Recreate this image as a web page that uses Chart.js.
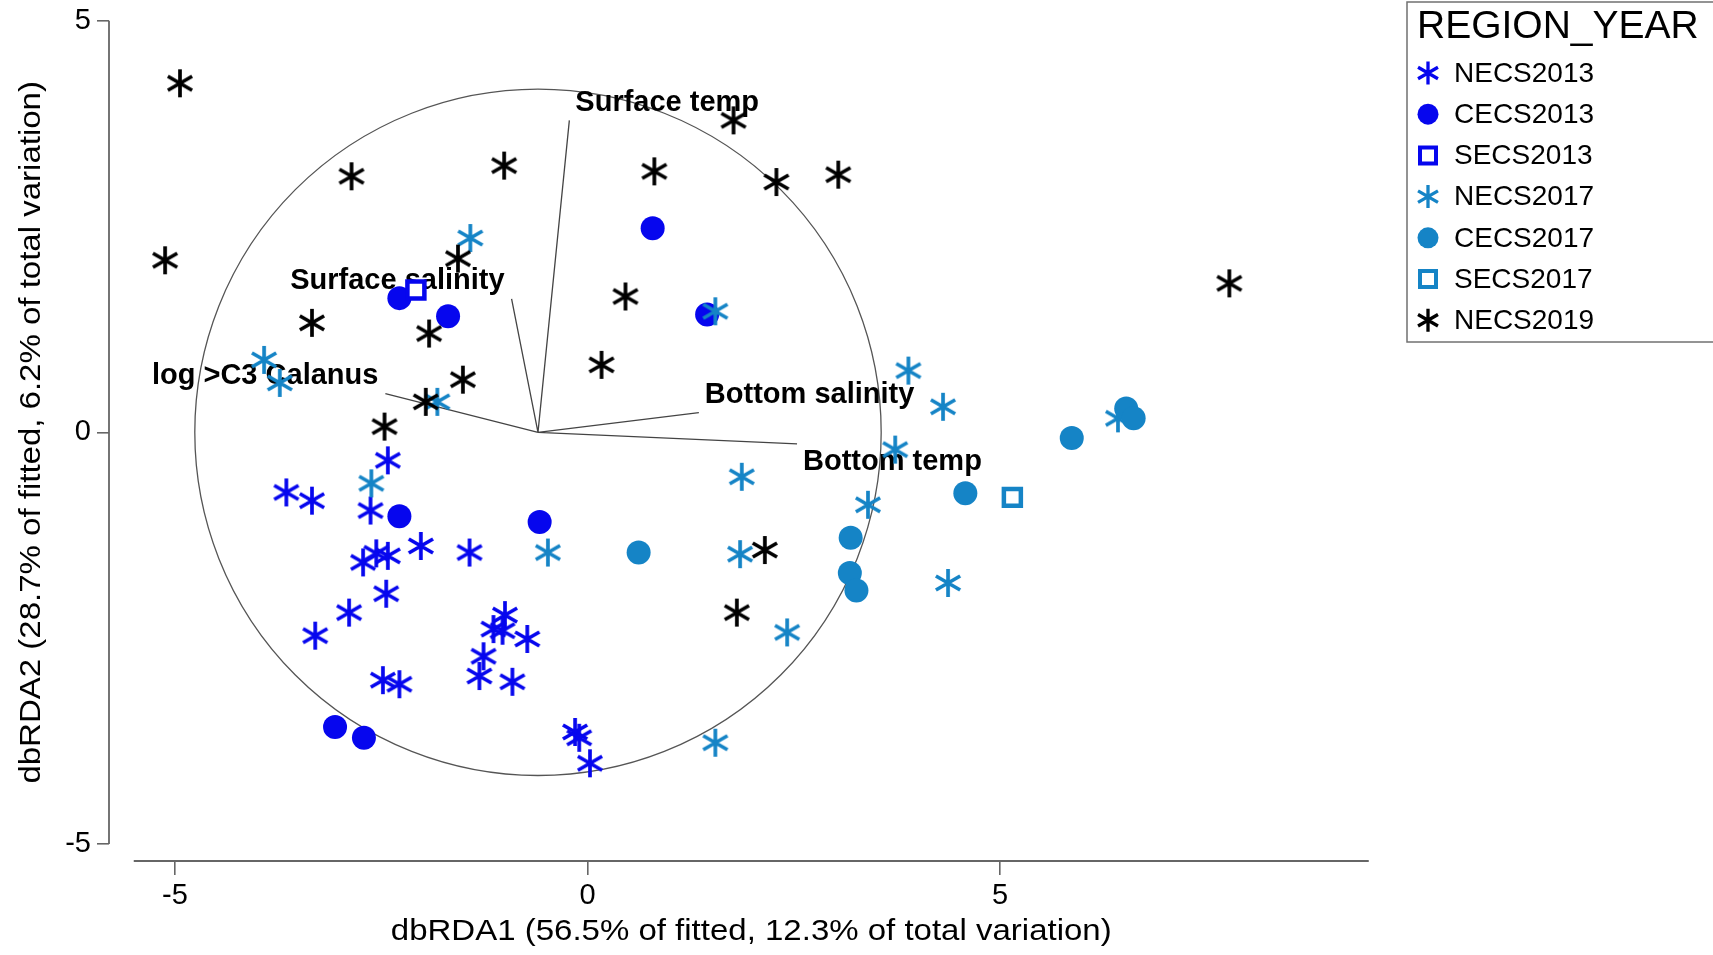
<!DOCTYPE html>
<html>
<head>
<meta charset="utf-8">
<title>dbRDA ordination</title>
<script src="https://cdn.jsdelivr.net/npm/chart.js@4.4.1/dist/chart.umd.min.js"></script>
<style>
  html, body { margin: 0; padding: 0; background: #ffffff; }
  #wrap { position: relative; width: 1713px; height: 955px; }
  canvas { display: block; }
</style>
</head>
<body>
<div id="wrap"><canvas id="chart" width="1713" height="955"></canvas></div>
<script>
// Site scores on the first two dbRDA axes, one array per region/year group
const seriesNames = ['NECS2013', 'CECS2013', 'SECS2013', 'NECS2017', 'CECS2017', 'SECS2017', 'NECS2019'];

const NECS2013 = [
  [-2.42, -0.34], [-3.65, -0.73], [-3.34, -0.83], [-2.63, -0.95], [-2.72, -1.58], [-2.56, -1.47],
  [-2.42, -1.50], [-2.02, -1.38], [-1.43, -1.46], [-2.44, -1.96], [-2.89, -2.19], [-3.30, -2.47],
  [-1.00, -2.22], [-1.14, -2.39], [-1.03, -2.41], [-0.73, -2.51], [-1.26, -2.72], [-1.31, -2.96],
  [-0.91, -3.03], [-2.48, -3.01], [-2.28, -3.06], [-0.15, -3.64], [-0.10, -3.71], [0.03, -4.02]
];
const CECS2013 = [
  [-2.28, 1.63], [-1.69, 1.41], [0.79, 2.48], [1.45, 1.43],
  [-2.28, -1.02], [-0.58, -1.09], [-3.06, -3.58], [-2.71, -3.71]
];
const SECS2013 = [[-2.08, 1.73]];
const NECS2017 = [
  [-1.42, 2.36], [-3.92, 0.88], [-3.73, 0.60], [-1.82, 0.37], [-2.62, -0.62], [-0.48, -1.46],
  [1.55, 1.47], [3.89, 0.75], [4.31, 0.31], [3.73, -0.21], [1.87, -0.54], [1.85, -1.48],
  [2.42, -2.43], [3.40, -0.88], [4.37, -1.83], [1.55, -3.77], [6.43, 0.17]
];
const CECS2017 = [
  [0.62, -1.46], [3.19, -1.28], [3.18, -1.71], [3.26, -1.92],
  [4.58, -0.74], [5.87, -0.07], [6.53, 0.29], [6.62, 0.17]
];
const SECS2017 = [[5.15, -0.79]];
const NECS2019 = [
  [-4.94, 4.24], [-2.86, 3.11], [-1.01, 3.24], [-5.12, 2.09], [-1.57, 2.11], [-3.34, 1.33],
  [-1.92, 1.20], [-1.51, 0.64], [-1.96, 0.37], [-2.46, 0.07], [1.77, 3.79], [0.81, 3.17],
  [2.29, 3.04], [3.04, 3.13], [0.46, 1.65], [0.17, 0.82], [7.78, 1.81], [2.15, -1.43], [1.81, -2.19]
];

// Predictor vectors (multiple partial correlations) drawn from a common origin
const vectorNames = ['Surface temp', 'Surface salinity', 'log >C3 Calanus', 'Bottom salinity', 'Bottom temp'];
const vectorEndX = [-0.22, -0.92, -2.45, 1.35, 2.54];
const vectorEndY = [3.79, 1.62, 0.47, 0.24, -0.14];
const vectorOrigin = [-0.60, 0.00];
const circleRadius = 4.16;

// Axes
const xTicks = [-5, 0, 5];
const yTicks = [-5, 0, 5];
const xAxisSpan = [-5.5, 9.47];
const yAxisSpan = [-5, 5];
const xAxisTitle = 'dbRDA1 (56.5% of fitted, 12.3% of total variation)';
const yAxisTitle = 'dbRDA2 (28.7% of fitted, 6.2% of total variation)';
const legendTitle = 'REGION_YEAR';

const FONT = '"Liberation Sans", Arial, Helvetica, sans-serif';
const BLUE13 = '#0606EE';
const BLUE17 = '#1584C6';
const BLACK19 = '#000000';

// Six-armed asterisk: one vertical stroke plus two strokes at +/-30 degrees
function drawAsterisk(g, x, y, half, color, lw) {
  g.save();
  g.strokeStyle = color;
  g.lineWidth = lw;
  g.lineCap = 'butt';
  g.beginPath();
  for (const deg of [90, 30, -30]) {
    const r = deg * Math.PI / 180;
    const dx = Math.cos(r) * half, dy = Math.sin(r) * half;
    g.moveTo(x - dx, y + dy);
    g.lineTo(x + dx, y - dy);
  }
  g.stroke();
  g.restore();
}
function asteriskImage(color, size, lw) {
  const pad = 6;
  const c = document.createElement('canvas');
  c.width = c.height = size + pad * 2;
  drawAsterisk(c.getContext('2d'), c.width / 2, c.height / 2, size / 2, color, lw);
  return c;
}
function drawDot(g, x, y, r, color) {
  g.save(); g.fillStyle = color; g.beginPath(); g.arc(x, y, r, 0, Math.PI * 2); g.fill(); g.restore();
}
function drawSquare(g, x, y, side, color, lw) {
  g.save(); g.strokeStyle = color; g.lineWidth = lw; g.fillStyle = '#ffffff';
  g.beginPath(); g.rect(x - side / 2, y - side / 2, side, side); g.fill(); g.stroke(); g.restore();
}

const toXY = arr => arr.map(([x, y]) => ({ x, y }));

const seriesStyle = {
  NECS2013: { data: NECS2013, kind: 'star', color: BLUE13, order: 5 },
  CECS2013: { data: CECS2013, kind: 'dot', color: BLUE13, order: 4 },
  SECS2013: { data: SECS2013, kind: 'square', color: BLUE13, order: 3 },
  NECS2017: { data: NECS2017, kind: 'star', color: BLUE17, order: 2 },
  CECS2017: { data: CECS2017, kind: 'dot', color: BLUE17, order: 1 },
  SECS2017: { data: SECS2017, kind: 'square', color: BLUE17, order: 1 },
  NECS2019: { data: NECS2019, kind: 'star', color: BLACK19, order: 0 }
};

const datasets = seriesNames.map(name => {
  const s = seriesStyle[name];
  const base = { label: name, data: toXY(s.data), order: s.order, clip: false };
  if (s.kind === 'star') {
    const img = asteriskImage(s.color, 28, 3.7);
    return Object.assign(base, { pointStyle: img, pointRadius: 14, pointHoverRadius: 14 });
  }
  if (s.kind === 'dot') {
    return Object.assign(base, {
      pointStyle: 'circle', pointRadius: 12, pointHoverRadius: 12,
      backgroundColor: s.color, borderColor: s.color, borderWidth: 0
    });
  }
  return Object.assign(base, {
    pointStyle: 'rect', pointRadius: 12, pointHoverRadius: 12,
    backgroundColor: '#ffffff', borderColor: s.color, borderWidth: 4.5
  });
});

// Axis lines, correlation circle, predictor vectors and their labels
const biplotLayer = {
  id: 'biplotLayer',
  beforeDatasetsDraw(chart) {
    const { ctx, chartArea, scales: { x, y } } = chart;
    ctx.save();
    ctx.strokeStyle = '#666666';
    ctx.lineWidth = 1.8;
    ctx.beginPath();
    ctx.moveTo(chartArea.left, y.getPixelForValue(yAxisSpan[1]));
    ctx.lineTo(chartArea.left, y.getPixelForValue(yAxisSpan[0]));
    ctx.moveTo(x.getPixelForValue(xAxisSpan[0]), chartArea.bottom);
    ctx.lineTo(x.getPixelForValue(xAxisSpan[1]), chartArea.bottom);
    ctx.stroke();

    const ox = x.getPixelForValue(vectorOrigin[0]);
    const oy = y.getPixelForValue(vectorOrigin[1]);
    const rPx = x.getPixelForValue(vectorOrigin[0] + circleRadius) - ox;
    ctx.strokeStyle = '#555555';
    ctx.lineWidth = 1.3;
    ctx.beginPath();
    ctx.arc(ox, oy, rPx, 0, Math.PI * 2);
    ctx.stroke();

    ctx.strokeStyle = '#444444';
    ctx.lineWidth = 1.3;
    ctx.beginPath();
    vectorNames.forEach((_, i) => {
      ctx.moveTo(ox, oy);
      ctx.lineTo(x.getPixelForValue(vectorEndX[i]), y.getPixelForValue(vectorEndY[i]));
    });
    ctx.stroke();

    ctx.fillStyle = '#000000';
    ctx.font = 'bold 29px ' + FONT;
    ctx.textBaseline = 'middle';
    vectorNames.forEach((name, i) => {
      const ex = x.getPixelForValue(vectorEndX[i]);
      const ey = y.getPixelForValue(vectorEndY[i]);
      const right = vectorEndX[i] >= vectorOrigin[0];
      const up = vectorEndY[i] >= vectorOrigin[1];
      ctx.textAlign = right ? 'left' : 'right';
      ctx.fillText(name, right ? ex + 6 : ex - 7, up ? ey - 17.5 : ey + 18.5);
    });
    ctx.restore();
  },
  afterDraw(chart) {
    const { ctx, chartArea, scales: { x, y } } = chart;
    ctx.save();
    ctx.fillStyle = '#000000';
    ctx.textAlign = 'center';
    ctx.textBaseline = 'middle';
    ctx.font = '30px ' + FONT;
    const stretch = 1.1;

    // x-axis title, centred under the axis line
    const xc = (x.getPixelForValue(xAxisSpan[0]) + x.getPixelForValue(xAxisSpan[1])) / 2;
    ctx.save();
    ctx.translate(xc, chartArea.bottom + 71);
    ctx.scale(stretch, 1);
    ctx.fillText(xAxisTitle, 0, 0);
    ctx.restore();

    // y-axis title, rotated, centred on the axis line
    const yc = (y.getPixelForValue(yAxisSpan[0]) + y.getPixelForValue(yAxisSpan[1])) / 2;
    ctx.save();
    ctx.translate(chartArea.left - 77, yc);
    ctx.rotate(-Math.PI / 2);
    ctx.scale(stretch, 1);
    ctx.fillText(yAxisTitle, 0, 0);
    ctx.restore();

    // legend panel
    const lx = chartArea.right + 38, ly = 2;
    ctx.strokeStyle = '#707070';
    ctx.lineWidth = 1.5;
    ctx.strokeRect(lx, ly, 360, 340);
    ctx.textAlign = 'left';
    ctx.font = '39px ' + FONT;
    ctx.fillText(legendTitle, lx + 10, ly + 25);
    ctx.font = '28px ' + FONT;
    seriesNames.forEach((name, i) => {
      const s = seriesStyle[name];
      const cy = ly + 71 + i * 41.2;
      const mx = lx + 21;
      if (s.kind === 'star') drawAsterisk(ctx, mx, cy, 11.5, s.color, 3.3);
      else if (s.kind === 'dot') drawDot(ctx, mx, cy, 10.5, s.color);
      else drawSquare(ctx, mx, cy, 16, s.color, 4);
      ctx.fillStyle = '#000000';
      ctx.fillText(name, lx + 47, cy + 1);
    });
    ctx.restore();
  }
};

new Chart(document.getElementById('chart'), {
  type: 'scatter',
  data: { datasets },
  options: {
    responsive: false,
    animation: false,
    events: [],
    layout: { padding: { left: 0, right: 344, top: 20.7, bottom: 0 } },
    plugins: { legend: { display: false }, tooltip: { enabled: false }, title: { display: false } },
    scales: {
      x: {
        type: 'linear',
        min: -5.8,
        max: 9.473,
        afterBuildTicks: s => { s.ticks = xTicks.map(v => ({ value: v })); },
        afterFit: s => { s.height = 94; s.paddingLeft = 0; s.paddingRight = 0; },
        ticks: { font: { family: FONT, size: 29 }, color: '#000000', padding: 4, callback: v => String(v), maxRotation: 0 },
        grid: { drawOnChartArea: false, drawTicks: true, tickLength: 14, color: '#666666', lineWidth: 1.6 },
        border: { display: false }
      },
      y: {
        type: 'linear',
        min: -5.207,
        max: 5,
        afterBuildTicks: s => { s.ticks = yTicks.map(v => ({ value: v })); },
        afterFit: s => { s.width = 109; s.paddingTop = 0; s.paddingBottom = 0; },
        ticks: { font: { family: FONT, size: 29 }, color: '#000000', padding: 6, callback: v => String(v) },
        grid: { drawOnChartArea: false, drawTicks: true, tickLength: 12, color: '#666666', lineWidth: 1.6 },
        border: { display: false }
      }
    }
  },
  plugins: [biplotLayer]
});
</script>
</body>
</html>
